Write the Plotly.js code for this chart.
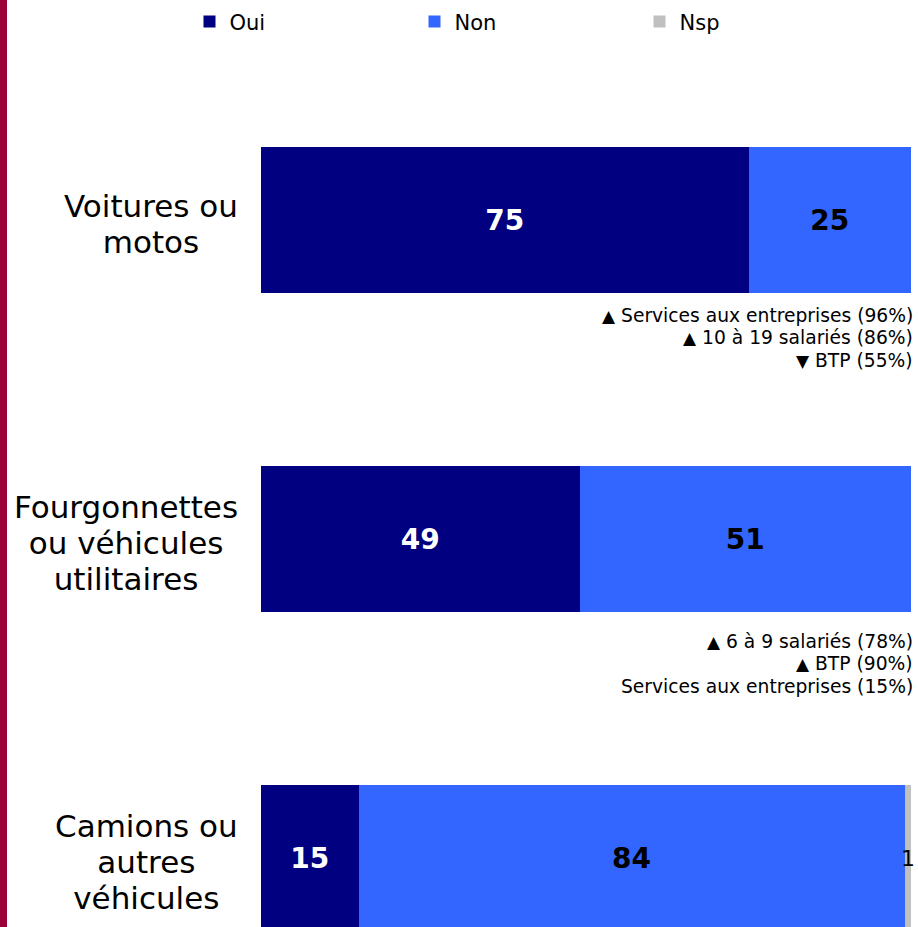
<!DOCTYPE html>
<html>
<head>
<meta charset="utf-8">
<script src="https://cdn.plot.ly/plotly-3.0.1.min.js"></script>
<style>html,body{margin:0;padding:0;background:#fff;}#chart{width:918px;height:927px;}</style>
</head>
<body>
<div id="chart"></div>
<script>
const categories = ["Voitures ou<br>motos", "Fourgonnettes<br>ou véhicules<br>utilitaires", "Camions ou<br>autres<br>véhicules"];
const oui = [75, 49, 15];
const non = [25, 51, 84];
const nsp = [0, 0, 1];
const seriesNames = ["Oui", "Non", "Nsp"];
const notes = [
  ["▲ Services aux entreprises (96%)", "▲ 10 à 19 salariés (86%)", "▼ BTP (55%)"],
  ["▲ 6 à 9 salariés (78%)", "▲ BTP (90%)", "Services aux entreprises (15%)"],
  []
];

const pos = categories.map((c, i) => i);
const F = "DejaVu Sans, Verdana, sans-serif";
const noteTop = [0.298, 0.320, 0.3];

function bar(name, vals, color, textColor, showText) {
  return {
    type: 'bar', orientation: 'h', name: name,
    x: vals, y: pos,
    marker: {color: color, line: {width: 0}},
    text: showText ? vals.map(String) : null,
    textposition: showText ? 'inside' : 'none',
    insidetextanchor: 'middle',
    insidetextfont: {family: F, size: 28, color: textColor, weight: 'bold'},
    hoverinfo: 'skip'
  };
}

const data = [
  bar(seriesNames[0], oui, '#000080', '#ffffff', true),
  bar(seriesNames[1], non, '#3366FF', '#000000', true),
  bar(seriesNames[2], nsp, '#C0C0C0', '#000000', false)
];

const annotations = [];
categories.forEach((c, i) => {
  annotations.push({
    xref: 'paper', yref: 'y', x: (240 - 261) / 650, y: i, yshift: -4,
    text: c.split('<br>').map(l => '<span style="font-size:31px">' + l + '</span>').join('<br>'),
    showarrow: false, xanchor: 'right', yanchor: 'middle', align: 'center',
    font: {family: F, size: 27.7, color: '#000'}
  });
  if (nsp[i] > 0) {
    annotations.push({
      xref: 'x', yref: 'y', x: oui[i] + non[i] + nsp[i] / 2, y: i,
      text: String(nsp[i]), showarrow: false, xanchor: 'center', yanchor: 'middle',
      font: {family: F, size: 22, color: '#000'}
    });
  }
  notes[i].forEach((t, k) => {
    annotations.push({
      xref: 'paper', yref: 'y', x: 1, xshift: 4, y: i + noteTop[i],
      yshift: -k * 22.5,
      text: t.replace(/^([▲▼])/, '<span style="font-size:17px">$1</span>'),
      showarrow: false, xanchor: 'right', yanchor: 'middle', align: 'right',
      font: {family: F, size: 18.7, color: '#000'}
    });
  });
});

const layout = {
  width: 918, height: 927,
  margin: {l: 261, r: 7, t: 60, b: 0},
  paper_bgcolor: '#fff', plot_bgcolor: '#fff',
  barmode: 'stack', bargap: 0.542,
  xaxis: {range: [0, 100], visible: false, fixedrange: true},
  yaxis: {range: [2.216, -0.5016], visible: false, fixedrange: true},
  showlegend: true,
  legend: {
    orientation: 'h', x: -0.11, xanchor: 'left', y: 1.044, yanchor: 'middle',
    entrywidth: 180, entrywidthmode: 'pixels', traceorder: 'normal', itemwidth: 30,
    font: {family: F, size: 21, color: '#000'},
    itemclick: false, itemdoubleclick: false
  },
  annotations: annotations,
  shapes: [{
    type: 'rect', xref: 'paper', yref: 'paper',
    x0: (0 - 261) / 650, x1: (7 - 261) / 650, y0: -0.05, y1: 1.1,
    fillcolor: '#9C0039', line: {width: 0}, layer: 'above'
  }]
};

Plotly.newPlot('chart', data, layout, {displayModeBar: false, staticPlot: true});
</script>
</body>
</html>
